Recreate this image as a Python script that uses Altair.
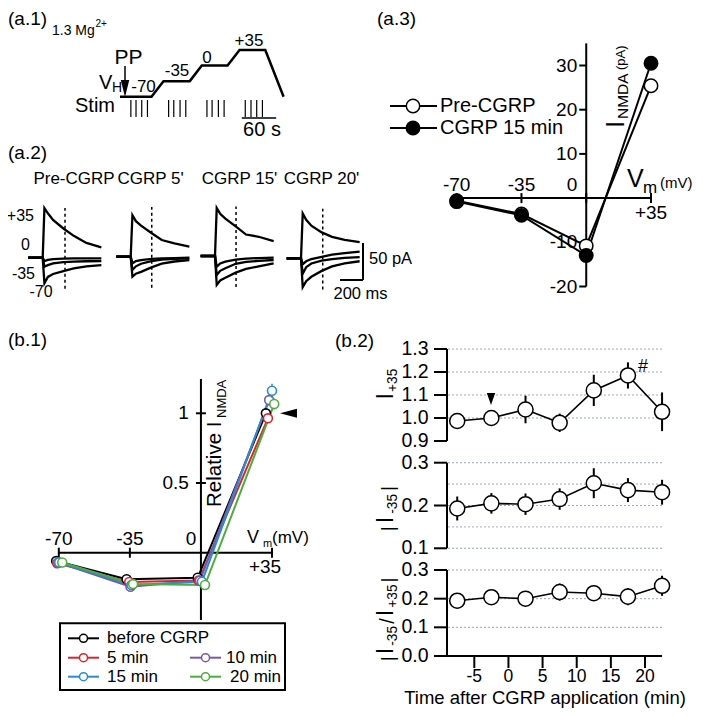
import altair as alt
import pandas as pd

# ============================ DATA ============================
# (a.1) voltage-clamp protocol
proto_t = [0, 55, 76, 122, 143, 188, 209, 254, 286]          # s
proto_v = [-70, -70, -35, -35, 0, 0, 35, 35, -70]             # mV
stim_t = [19, 28, 38, 48, 85, 94, 105, 115,
          152, 161, 172, 182, 219, 229, 239, 249]             # s
proto_steps = ["-70", "-35", "0", "+35"]
proto_scale_s = 60

# (a.2) NMDA current traces (pA) sampled at trace_t (ms after stimulus)
trace_titles = ["Pre-CGRP", "CGRP 5'", "CGRP 15'", "CGRP 20'"]
trace_hold = ["+35", "0", "-35", "-70"]
trace_t = [-125, 0, 15, 45, 90, 180, 270, 380, 510]
pre_p35 = [0, 0, 67, 60, 51, 39.5, 29.5, 20, 14]
pre_0 = [0, 0, -4.5, -3, -1.8, -1.3, -1, -0.9, -0.8]
pre_m35 = [0, 0, -12, -10, -7.7, -6, -5.3, -4.8, -4.5]
pre_m70 = [0, 0, -34.5, -26, -22, -18, -14.5, -11.8, -10]
c5_p35 = [0, 0, 56, 48, 42, 32, 22.5, 18, 13.5]
c5_0 = [0, 0, -9, -6, -4.5, -3, -2.2, -1.8, -1.4]
c5_m35 = [0, 0, -18, -13, -9.5, -6, -4, -3, -2.2]
c5_m70 = [0, 0, -27, -23, -20.5, -14.5, -9.5, -6.5, -4.5]
c15_p35 = [0, 0, 65, 57, 50.5, 40, 29, 26, 20]
c15_0 = [0, 0, -14.5, -10, -7.5, -5, -3.5, -2.8, -2.3]
c15_m35 = [0, 0, -25.7, -20, -16.5, -10.5, -8, -6.5, -5.4]
c15_m70 = [0, 0, -39, -33, -29.5, -22.5, -17.5, -14, -10]
c20_p35 = [0, 0, 60.5, 52, 44, 35, 29, 25, 22]
c20_0 = [0, 0, -8, -4, -1, 2, 5, 7, 9]
c20_m35 = [0, 0, -20.7, -12, -7, -3, -1, 0.5, 1.5]
c20_m70 = [0, 0, -39, -31, -25, -17, -11, -7, -4]
measure_t = [194, 183, 183, 189]     # ms, dashed measurement line
scale_ms = 200
scale_pa = 50

# (a.3) I-V relation
a3_series = ["Pre-CGRP", "CGRP 15 min"]
a3_vm = [-70, -35, 0, 35]
a3_pre = [-0.6, -3.6, -10.8, 25.4]
a3_cgrp = [-0.8, -3.9, -13.0, 30.5]
a3_yticks = [30, 20, 10, -10, -20]
a3_xticks = [-70, -35, 0, 35]

# (b.1) normalised I-V relation
b1_series = ["before CGRP", "5 min", "10 min", "15 min", "20 min"]
b1_vm_before = [-71.3, -36.6, -1.6, 32.0]
b1_vm_5 = [-70.8, -35.3, -1.1, 33.0]
b1_vm_10 = [-70.3, -34.7, -0.5, 33.6]
b1_vm_15 = [-69.8, -34.2, 0.5, 35.0]
b1_vm_20 = [-68.3, -33.4, 2.0, 36.1]
b1_rel_before = [-0.06, -0.19, -0.18, 1.0]
b1_rel_5 = [-0.076, -0.21, -0.20, 0.964]
b1_rel_10 = [-0.07, -0.244, -0.20, 1.095]
b1_rel_15 = [-0.07, -0.232, -0.208, 1.162]
b1_rel_20 = [-0.07, -0.225, -0.232, 1.067]
b1_err_before = [0.01, 0.01, 0.01, 0.0]
b1_err_5 = [0.01, 0.015, 0.015, 0.03]
b1_err_10 = [0.01, 0.015, 0.015, 0.04]
b1_err_15 = [0.01, 0.015, 0.02, 0.05]
b1_err_20 = [0.01, 0.015, 0.03, 0.04]
b1_yticks = [0.5, 1]
b1_ylabels = ["0.5", "1"]
b1_xticks = [-70, -35, 0, 35]

# (b.2) time course
b2_time = [-7.5, -2.5, 2.5, 7.5, 12.5, 17.5, 22.5]
b2_ip35 = [0.987, 1.0, 1.037, 0.979, 1.12, 1.185, 1.027]
b2_ip35_err = [0.01, 0.01, 0.06, 0.04, 0.068, 0.057, 0.084]
b2_im35 = [0.193, 0.205, 0.203, 0.215, 0.252, 0.236, 0.231]
b2_im35_err = [0.028, 0.024, 0.025, 0.025, 0.035, 0.028, 0.029]
b2_ratio = [0.193, 0.205, 0.2, 0.223, 0.219, 0.207, 0.245]
b2_ratio_err = [0.01, 0.01, 0.02, 0.03, 0.01, 0.03, 0.035]
b2_xticks = [-5, 0, 5, 10, 15, 20]
b2_top_ticks = [1.3, 1.2, 1.1, 1.0, 0.9]
b2_top_grid = [1.0, 1.1, 1.2, 1.3]
b2_mid_ticks = [0.3, 0.2, 0.1]
b2_mid_grid = [0.1, 0.15, 0.2, 0.25, 0.3]
b2_bot_ticks = [0.3, 0.2, 0.1, 0.0]
b2_bot_grid = [0.1, 0.2, 0.3]

# ============================ LAYOUT / STYLE ============================
FONT = "Liberation Sans"
OFF = 8                      # page margin
ONE = pd.DataFrame({"k": [0]})
layers = []


def sc(dom, r0, r1):
    return alt.Scale(domain=dom, range=[r0 - OFF, r1 - OFF], nice=False, zero=False)


def lin(dom, r0, r1):
    return lambda v: r0 + (v - dom[0]) * (r1 - r0) / (dom[1] - dom[0])


def label(s, x, y, size, align="center", baseline="middle", angle=0):
    layers.append(alt.Chart(ONE).mark_text(
        text=s, font=FONT, fontSize=size, align=align, baseline=baseline,
        angle=angle, color="black").encode(x=alt.value(x - OFF), y=alt.value(y - OFF)))


CW = {"I": .278, "|": .26, "/": .278, "+": .584, "-": .333, " ": .278, "N": .722,
      "M": .833, "D": .722, "A": .667, "(": .333, ")": .333, "p": .556}


def tw(s, size):
    return sum(CW.get(c, .556) for c in s) * size


def rot_seq(pieces, y_start, gap=0.0):
    y = y_start
    for s, size, xb in pieces:
        label(s, xb, y, size, align="left", baseline="alphabetic", angle=270)
        y -= tw(s, size) + gap


def pxrule(x0, y0, x1, y1, w=2, color="black"):
    layers.append(alt.Chart(ONE).mark_rule(color=color, strokeWidth=w).encode(
        x=alt.value(x0 - OFF), y=alt.value(y0 - OFF),
        x2=alt.value(x1 - OFF), y2=alt.value(y1 - OFF)))


def seg(xs, ys, x0, y0, x1, y1, w=2, color="black"):
    df = pd.DataFrame({"x0": [x0], "y0": [y0], "x1": [x1], "y1": [y1]})
    layers.append(alt.Chart(df).mark_rule(color=color, strokeWidth=w).encode(
        x=alt.X("x0:Q", scale=xs, axis=None), y=alt.Y("y0:Q", scale=ys, axis=None),
        x2="x1:Q", y2="y1:Q"))


# ---------------- (a.1) ----------------
A1X = sc([0, 300], 120, 291.6)
A1Y = sc([-70, 35], 96.7, 50)
layers.append(alt.Chart(pd.DataFrame({"t": proto_t, "v": proto_v})).mark_line(
    color="black", strokeWidth=2.5).encode(
    x=alt.X("t:Q", scale=A1X, axis=None), y=alt.Y("v:Q", scale=A1Y, axis=None)))
layers.append(alt.Chart(pd.DataFrame({"t": stim_t})).mark_rule(color="black", strokeWidth=1.2).encode(
    x=alt.X("t:Q", scale=A1X, axis=None), y=alt.value(100 - OFF), y2=alt.value(117 - OFF)))
layers.append(alt.Chart(pd.DataFrame({"t0": [213], "t1": [213 + proto_scale_s]})).mark_rule(
    color="black", strokeWidth=1.5).encode(
    x=alt.X("t0:Q", scale=A1X, axis=None), x2="t1:Q", y=alt.value(118 - OFF)))
pxrule(125, 66, 125, 82, w=1.5)
layers.append(alt.Chart(ONE).mark_point(shape="M-0.5,-1L0.5,-1L0,1Z", filled=True, color="black",
                                        size=289, opacity=1, strokeWidth=0).encode(
    x=alt.value(125 - OFF), y=alt.value(88.5 - OFF)))
label("(a.1)", 8, 19, 19, align="left")
label("1.3 Mg", 52, 31, 14, align="left")
label("2+", 95.5, 23.5, 10, align="left")
label("PP", 128.5, 57.5, 21)
label("V", 99, 83, 20, align="left")
label("H", 112, 88, 14, align="left")
for s, (x, y) in zip(proto_steps, [(143.5, 86.5), (177, 70.5), (207, 57.5), (249, 41)]):
    label(s, x, y, 17)
label("Stim", 75, 105.5, 20, align="left")
label("%d s" % proto_scale_s, 262, 129.5, 20)

# ---------------- (a.2) ----------------
trace_sets = [[pre_p35, pre_0, pre_m35, pre_m70],
              [c5_p35, c5_0, c5_m35, c5_m70],
              [c15_p35, c15_0, c15_m35, c15_m70],
              [c20_p35, c20_0, c20_m35, c20_m70]]
G_STIM = [42.7, 130.7, 215.0, 301.0]
G_BASE = [257.7, 256.7, 256.0, 258.3]
G_TITLE_X = [74, 150.5, 239.5, 321.5]
PX_MS, PX_PA = 0.115, 0.74
for g in range(4):
    xs = sc([-130, 520], G_STIM[g] - 130 * PX_MS, G_STIM[g] + 520 * PX_MS)
    ys = sc([-50, 80], G_BASE[g] + 50 * PX_PA, G_BASE[g] - 80 * PX_PA)
    rows = []
    for h, vals in zip(trace_hold, trace_sets[g]):
        for t, v in zip(trace_t, vals):
            rows.append({"t": t, "i": v, "hold": h})
    layers.append(alt.Chart(pd.DataFrame(rows)).mark_line(color="black", strokeWidth=2.3).encode(
        x=alt.X("t:Q", scale=xs, axis=None), y=alt.Y("i:Q", scale=ys, axis=None), detail="hold:N"))
    layers.append(alt.Chart(pd.DataFrame({"t": [measure_t[g]], "a": [-42], "b": [67]})).mark_rule(
        color="black", strokeWidth=1.5, strokeDash=[3, 3]).encode(
        x=alt.X("t:Q", scale=xs, axis=None), y=alt.Y("a:Q", scale=ys, axis=None), y2="b:Q"))
    label(trace_titles[g], G_TITLE_X[g], 178.5, 17)
    if g == 3:
        SB_T, SB_I = 539, -29.3
        seg(xs, ys, SB_T - scale_ms, SB_I, SB_T, SB_I, w=2)
        seg(xs, ys, SB_T, SB_I, SB_T, SB_I + scale_pa, w=2)
label("(a.2)", 8, 152.5, 19, align="left")
for s, (x, y, al) in zip(trace_hold, [(34, 215.7, "right"), (30, 245, "right"),
                                      (35, 274, "right"), (41, 291.5, "center")]):
    label(s, x, y, 16, align=al)
label("%d pA" % scale_pa, 369, 259, 16.5, align="left")
label("%d ms" % scale_ms, 360.5, 294, 16.5)

# ---------------- (a.3) ----------------
A3_DOMX, A3_RX = [-70, 35], (456.7, 651)
A3_DOMY, A3_RY = [-20, 30], (286.5, 65.5)
A3X, A3Y = sc(A3_DOMX, *A3_RX), sc(A3_DOMY, *A3_RY)
a3px, a3py = lin(A3_DOMX, *A3_RX), lin(A3_DOMY, *A3_RY)
seg(A3X, A3Y, -70, 0, 35, 0, w=2)
seg(A3X, A3Y, 0, -20, 0, 35, w=2)
layers.append(alt.Chart(pd.DataFrame({"v": a3_yticks})).mark_rule(color="black", strokeWidth=2).encode(
    y=alt.Y("v:Q", scale=A3Y, axis=None), x=alt.value(a3px(0) - 7 - OFF), x2=alt.value(a3px(0) - OFF)))
layers.append(alt.Chart(pd.DataFrame({"v": a3_xticks})).mark_rule(color="black", strokeWidth=2).encode(
    x=alt.X("v:Q", scale=A3X, axis=None), y=alt.value(a3py(0) - 5 - OFF), y2=alt.value(a3py(0) + 5 - OFF)))
layers.append(alt.Chart(pd.DataFrame({"v": a3_yticks, "s": [str(v) for v in a3_yticks]})).mark_text(
    font=FONT, fontSize=19, align="right", baseline="middle").encode(
    y=alt.Y("v:Q", scale=A3Y, axis=None), x=alt.value(a3px(0) - 9 - OFF), text="s:N"))
label("0", a3px(0) - 9, 185, 19, align="right")
layers.append(alt.Chart(pd.DataFrame({"v": [-70, -35], "s": ["-70", "-35"]})).mark_text(
    font=FONT, fontSize=19, baseline="middle").encode(
    x=alt.X("v:Q", scale=A3X, axis=None), y=alt.value(185 - OFF), text="s:N"))
layers.append(alt.Chart(pd.DataFrame({"v": [35], "s": ["+35"]})).mark_text(
    font=FONT, fontSize=19, baseline="middle").encode(
    x=alt.X("v:Q", scale=A3X, axis=None), y=alt.value(213 - OFF), text="s:N"))
a3df = pd.DataFrame({"vm": a3_vm * 2, "i": a3_pre + a3_cgrp,
                     "s": [a3_series[0]] * 4 + [a3_series[1]] * 4})
layers.append(alt.Chart(a3df).mark_line(color="black", strokeWidth=2).encode(
    x=alt.X("vm:Q", scale=A3X, axis=None), y=alt.Y("i:Q", scale=A3Y, axis=None), detail="s:N"))
for s, fill in zip(a3_series, ["white", "black"]):
    layers.append(alt.Chart(a3df[a3df.s == s]).mark_point(
        shape="circle", size=180, fill=fill, stroke="black", strokeWidth=1.5, opacity=1, filled=True).encode(
        x=alt.X("vm:Q", scale=A3X, axis=None), y=alt.Y("i:Q", scale=A3Y, axis=None)))
for s, fill, y in zip(a3_series, ["white", "black"], [106, 128]):
    pxrule(390, y, 437, y, w=2)
    layers.append(alt.Chart(ONE).mark_point(shape="circle", size=180, fill=fill, stroke="black",
                                            strokeWidth=1.5, opacity=1, filled=True).encode(
        x=alt.value(413 - OFF), y=alt.value(y - OFF)))
    label(s, 440, y, 20, align="left")
label("(a.3)", 377, 19, 19, align="left")
rot_seq([("I", 26, 624)], 128)
rot_seq([("NMDA", 15.5, 628)], 119)
rot_seq([("(pA)", 13, 625)], 70)
label("V", 627, 187, 25, align="left", baseline="alphabetic")
label("m", 643, 193, 17, align="left", baseline="alphabetic")
label("(mV)", 660, 188, 15, align="left", baseline="alphabetic")

# ---------------- (b.1) ----------------
B1_DOMX, B1_RX = [-70, 35], (58.8, 272.0)
B1_DOMY, B1_RY = [0, 1], (552.7, 413.3)
B1X, B1Y = sc(B1_DOMX, *B1_RX), sc(B1_DOMY, *B1_RY)
b1px, b1py = lin(B1_DOMX, *B1_RX), lin(B1_DOMY, *B1_RY)
b1_colors = ["#000000", "#d7252f", "#7b58a6", "#2b8bcb", "#4fac3f"]
seg(B1X, B1Y, -70, 0, 35, 0, w=2)
seg(B1X, B1Y, 0, -0.483, 0, 1.246, w=2)
layers.append(alt.Chart(pd.DataFrame({"v": b1_yticks})).mark_rule(color="black", strokeWidth=2).encode(
    y=alt.Y("v:Q", scale=B1Y, axis=None), x=alt.value(b1px(0) - 5 - OFF), x2=alt.value(b1px(0) + 5 - OFF)))
layers.append(alt.Chart(pd.DataFrame({"v": [-70, -35, 35]})).mark_rule(color="black", strokeWidth=2).encode(
    x=alt.X("v:Q", scale=B1X, axis=None), y=alt.value(b1py(0) - 5 - OFF), y2=alt.value(b1py(0) + 5 - OFF)))
layers.append(alt.Chart(pd.DataFrame({"v": b1_yticks, "s": b1_ylabels})).mark_text(
    font=FONT, fontSize=19, align="right", baseline="middle").encode(
    y=alt.Y("v:Q", scale=B1Y, axis=None), x=alt.value(b1px(0) - 12 - OFF), text="s:N"))
layers.append(alt.Chart(pd.DataFrame({"v": [-70, -35], "s": ["-70", "-35"]})).mark_text(
    font=FONT, fontSize=19, baseline="middle").encode(
    x=alt.X("v:Q", scale=B1X, axis=None), y=alt.value(539.3 - OFF), text="s:N"))
label("0", b1px(0) - 10, 539.3, 19)
layers.append(alt.Chart(pd.DataFrame({"v": [35], "s": ["+35"]})).mark_text(
    font=FONT, fontSize=19, baseline="middle", dx=-7).encode(
    x=alt.X("v:Q", scale=B1X, axis=None), y=alt.value(567.3 - OFF), text="s:N"))
label("V", 247, 543, 18, align="left", baseline="alphabetic")
label("m", 263, 547, 11, align="left", baseline="alphabetic")
label("(mV)", 272, 543, 17, align="left", baseline="alphabetic")
rot_seq([("Relative I", 20.5, 221)], 507)
rot_seq([("NMDA", 13, 226)], 418)
rows = []
for s, vms, rels, errs in zip(b1_series,
                              [b1_vm_before, b1_vm_5, b1_vm_10, b1_vm_15, b1_vm_20],
                              [b1_rel_before, b1_rel_5, b1_rel_10, b1_rel_15, b1_rel_20],
                              [b1_err_before, b1_err_5, b1_err_10, b1_err_15, b1_err_20]):
    for vm, r, e in zip(vms, rels, errs):
        rows.append({"s": s, "vm": vm, "r": r, "lo": r - e, "hi": r + e})
b1df = pd.DataFrame(rows)
cscale = alt.Scale(domain=b1_series, range=b1_colors)
for s in b1_series:
    sub = b1df[b1df.s == s]
    layers.append(alt.Chart(sub).mark_line(strokeWidth=2).encode(
        x=alt.X("vm:Q", scale=B1X, axis=None), y=alt.Y("r:Q", scale=B1Y, axis=None),
        color=alt.Color("s:N", scale=cscale, legend=None)))
for s in b1_series:
    sub = b1df[b1df.s == s]
    layers.append(alt.Chart(sub).mark_rule(strokeWidth=1.5).encode(
        x=alt.X("vm:Q", scale=B1X, axis=None), y=alt.Y("lo:Q", scale=B1Y, axis=None), y2="hi:Q",
        color=alt.Color("s:N", scale=cscale, legend=None)))
    layers.append(alt.Chart(sub).mark_point(shape="circle", size=80, fill="white", strokeWidth=1.6,
                                            opacity=1, filled=True).encode(
        x=alt.X("vm:Q", scale=B1X, axis=None), y=alt.Y("r:Q", scale=B1Y, axis=None),
        stroke=alt.Stroke("s:N", scale=cscale, legend=None)))
layers.append(alt.Chart(ONE).mark_point(shape="M1,-0.53L-1,0L1,0.53Z", filled=True, color="black",
                                        size=289, opacity=1, strokeWidth=0).encode(
    x=alt.value(288.5 - OFF), y=alt.value(b1py(1) - OFF)))
# legend box
layers.append(alt.Chart(ONE).mark_rect(fill="white", stroke="black", strokeWidth=2).encode(
    x=alt.value(60 - OFF), x2=alt.value(285 - OFF), y=alt.value(623.3 - OFF), y2=alt.value(690 - OFF)))
leg_xy = [(68, 638.3, 107), (68, 657.7, 107), (190, 657.7, 226), (68, 676.7, 107), (190, 676.7, 230)]
for s, col, (lx, ly, tx) in zip(b1_series, b1_colors, leg_xy):
    pxrule(lx, ly, lx + 31, ly, w=2, color=col)
    layers.append(alt.Chart(ONE).mark_point(shape="circle", size=64, fill="white", stroke=col,
                                            strokeWidth=1.5, opacity=1, filled=True).encode(
        x=alt.value(lx + 15.5 - OFF), y=alt.value(ly - OFF)))
    label(s, tx, ly, 17, align="left")
label("(b.1)", 8, 340, 19, align="left")

# ---------------- (b.2) ----------------
B2_DOMX, B2_RX = [-5, 20], (474.3, 645)
B2X = sc(B2_DOMX, *B2_RX)
AX_X = 447.0
panels = [
    (b2_ip35, b2_ip35_err, [0.9, 1.3], (441.0, 349.0), b2_top_grid, b2_top_ticks),
    (b2_im35, b2_im35_err, [0.1, 0.3], (548.3, 462.7), b2_mid_grid, b2_mid_ticks),
    (b2_ratio, b2_ratio_err, [0.0, 0.3], (656.0, 570.0), b2_bot_grid, b2_bot_ticks),
]
for vals, errs, dom, (r0, r1), grid, ticks in panels:
    ys = sc(dom, r0, r1)
    layers.append(alt.Chart(pd.DataFrame({"v": grid})).mark_rule(
        color="#9ea7c6", strokeWidth=1, strokeDash=[2, 2]).encode(
        y=alt.Y("v:Q", scale=ys, axis=None), x=alt.value(AX_X + 1 - OFF), x2=alt.value(662 - OFF)))
    layers.append(alt.Chart(pd.DataFrame({"a": [dom[0]], "b": [dom[1]]})).mark_rule(
        color="black", strokeWidth=2).encode(
        y=alt.Y("a:Q", scale=ys, axis=None), y2="b:Q", x=alt.value(AX_X - OFF)))
    layers.append(alt.Chart(pd.DataFrame({"v": ticks})).mark_rule(color="black", strokeWidth=2).encode(
        y=alt.Y("v:Q", scale=ys, axis=None), x=alt.value(AX_X - 13 - OFF), x2=alt.value(AX_X - OFF)))
    layers.append(alt.Chart(pd.DataFrame({"v": ticks, "s": ["%.1f" % v for v in ticks]})).mark_text(
        font=FONT, fontSize=19.5, align="right", baseline="middle").encode(
        y=alt.Y("v:Q", scale=ys, axis=None), x=alt.value(AX_X - 18.5 - OFF), text="s:N"))
    df = pd.DataFrame({"t": b2_time, "v": vals,
                       "lo": [v - e for v, e in zip(vals, errs)],
                       "hi": [v + e for v, e in zip(vals, errs)]})
    layers.append(alt.Chart(df).mark_line(color="black", strokeWidth=1.6).encode(
        x=alt.X("t:Q", scale=B2X, axis=None), y=alt.Y("v:Q", scale=ys, axis=None)))
    layers.append(alt.Chart(df).mark_rule(color="black", strokeWidth=2).encode(
        x=alt.X("t:Q", scale=B2X, axis=None), y=alt.Y("lo:Q", scale=ys, axis=None), y2="hi:Q"))
    layers.append(alt.Chart(df).mark_point(shape="circle", size=227, fill="white", stroke="black",
                                           strokeWidth=1.5, opacity=1, filled=True).encode(
        x=alt.X("t:Q", scale=B2X, axis=None), y=alt.Y("v:Q", scale=ys, axis=None)))
pxrule(AX_X, 656, 662, 656, w=2)
layers.append(alt.Chart(pd.DataFrame({"v": b2_xticks})).mark_rule(color="black", strokeWidth=2).encode(
    x=alt.X("v:Q", scale=B2X, axis=None), y=alt.value(656 - OFF), y2=alt.value(668 - OFF)))
layers.append(alt.Chart(pd.DataFrame({"v": b2_xticks, "s": [str(v) for v in b2_xticks]})).mark_text(
    font=FONT, fontSize=17.5, baseline="middle").encode(
    x=alt.X("v:Q", scale=B2X, axis=None), y=alt.value(676.5 - OFF), text="s:N"))
label("Time after CGRP application (min)", 545, 703.5, 18.5, baseline="alphabetic")
label("(b.2)", 335, 340.5, 19, align="left")
label("#", 643, 367, 18)
layers.append(alt.Chart(ONE).mark_point(shape="M-0.7,-1L0.7,-1L0,1Z", filled=True, color="black",
                                        size=144, opacity=1, strokeWidth=0).encode(
    x=alt.value(491 - OFF), y=alt.value(399 - OFF)))
# rotated y labels
rot_seq([("I", 23.5, 393), ("+35", 13.8, 397)], 399.5, gap=1)
rot_seq([("|", 18, 394), ("I", 23.5, 393), ("-35", 13.8, 397), ("|", 18, 394)], 531, gap=3)
rot_seq([("|", 18, 394), ("I", 23.5, 393), ("-35", 13.8, 397), ("/", 20, 394), ("I", 23.5, 393),
         ("+35", 13.8, 397), ("|", 18, 394)], 661, gap=2)

chart = alt.layer(*layers).resolve_scale(
    x="independent", y="independent", color="independent", stroke="independent"
).properties(
    width=687, height=700, padding=0, autosize=alt.AutoSizeParams(type="none"),
    background="white"
).configure_view(stroke="transparent")

chart.save("out.html", embed_options={"renderer": "svg", "actions": False})
